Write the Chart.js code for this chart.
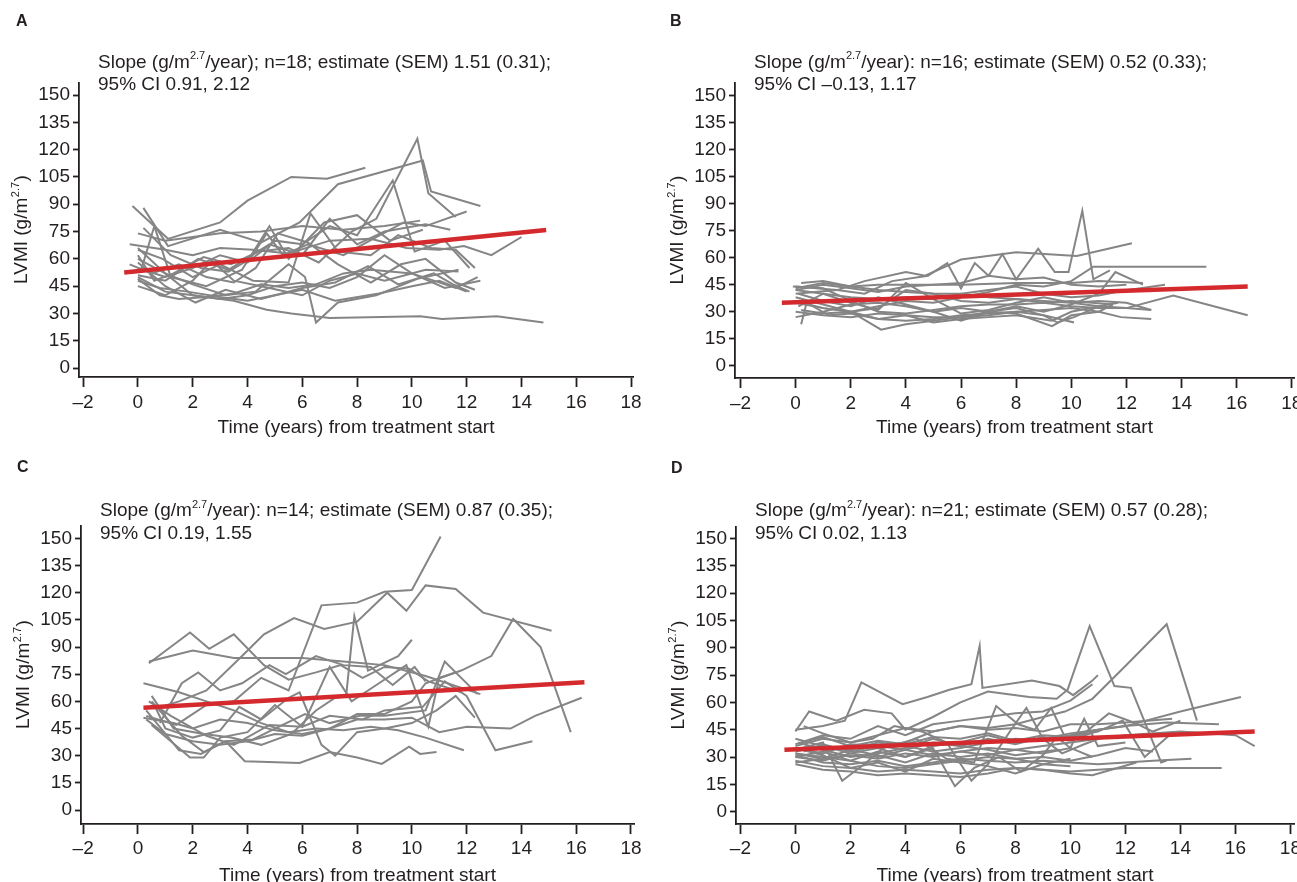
<!DOCTYPE html>
<html><head><meta charset="utf-8">
<script src="https://cdn.jsdelivr.net/npm/chart.js@4.4.0/dist/chart.umd.min.js"></script>
<style>
html,body{margin:0;padding:0;background:#fff;width:1297px;height:882px;overflow:hidden;}
.panel{position:absolute;overflow:visible;}
.panel canvas{position:absolute;left:0;top:0;}
.letter{position:absolute;font:bold 16px "Liberation Sans",Arial,sans-serif;color:#231f20;}
.note{position:absolute;font:19px "Liberation Sans",Arial,sans-serif;color:#231f20;line-height:22.5px;white-space:nowrap;}
.note sup{font-size:11px;line-height:0;position:relative;top:-1px;vertical-align:super;}
</style></head><body>
<script>
// ---------- DATA ----------
const xTicks = [-2,0,2,4,6,8,10,12,14,16,18];
const yTicks = [0,15,30,45,60,75,90,105,120,135,150];
const xTitle = 'Time (years) from treatment start';
const panelLetters = ['A','B','C','D'];
const notesLine1 = [
  ['Slope (g/m','2.7','/year); n=18; estimate (SEM) 1.51 (0.31);'],
  ['Slope (g/m','2.7','/year): n=16; estimate (SEM) 0.52 (0.33);'],
  ['Slope (g/m','2.7','/year): n=14; estimate (SEM) 0.87 (0.35);'],
  ['Slope (g/m','2.7','/year): n=21; estimate (SEM) 0.57 (0.28);']
];
const notesLine2 = ['95% CI 0.91, 2.12','95% CI \u20130.13, 1.17','95% CI 0.19, 1.55','95% CI 0.02, 1.13'];

// regression (fitted) lines: [time, LVMI] at both ends
const fitA = [[-0.5,52.5],[14.9,75.8]];
const fitB = [[-0.5,35],[16.4,44]];
const fitC = [[0.2,56.5],[16.3,70.5]];
const fitD = [[-0.4,34],[16.7,44]];

// individual patient trajectories: [time, LVMI]
const patientsA = [
 [[-0.2,89],[1.1,71],[3.0,80],[4.0,92],[5.6,105],[6.9,104],[8.3,110]],
 [[0.2,88],[1.1,67],[3.0,76],[4.5,69],[5.9,80],[7.3,101],[10.4,114],[10.7,97],[12.5,89]],
 [[0,62],[0.6,48],[1.3,52],[2.4,61],[3.4,57],[4.4,64],[5.5,66],[6.6,58],[7.8,75],[8.7,82],[10.2,126],[10.6,96],[11.6,83]],
 [[0,55],[1,50],[2,55],[3,62],[4,58],[5,70],[6,68],[7,78],[8,73],[9.3,103],[10.1,64],[11.2,70],[12.1,55]],
 [[0,50],[1,42],[2,40],[3.5,37],[4.7,32],[5.6,30],[7,27.5],[10.3,28.5],[11.1,27],[13.1,28.5],[14.8,25]],
 [[-0.3,68],[1,65],[2,62],[3,66],[4.2,65],[5.5,63],[7,70],[8.5,71],[9.8,66],[11,65],[11.9,67],[12.9,62],[14,72]],
 [[0,60],[1,52],[2,46],[3.2,40],[4.3,42],[5.5,57],[6.1,50],[6.5,25],[7.3,36],[8.7,40],[10.2,49],[11.7,54]],
 [[0,49],[0.8,40],[1.5,38],[2.5,39],[3.5,41],[4.5,46],[5.5,44],[6.5,46],[7.5,52],[8.5,54],[10,52],[11.6,44],[12.4,50]],
 [[0,58],[1,45],[2.1,36],[3.2,43],[4.5,38],[6,44],[7.2,47],[8.4,56],[9.5,46],[10.8,52],[11.5,46],[12.1,42]],
 [[0,65],[0.9,60],[2,50],[3,57],[4.2,48],[5.5,47],[6.3,85],[7.3,64],[8.5,62],[9.5,73],[10.7,66],[11.6,65],[12.3,55]],
 [[0.2,77],[1.2,62],[2.3,55],[3.3,53],[4.1,60],[4.7,74],[5.3,62],[6.2,68],[7.5,62],[8.7,72],[9.7,80],[10.5,78],[12,86]],
 [[0,74],[1,70],[3,74],[4.5,75],[6,78],[7.5,76],[9,78],[10.3,81]],
 [[0,51],[1,48],[2.2,60],[3.3,54],[4.8,68],[6,62],[7,82],[8,68],[9,75],[10.5,79],[11.4,76]],
 [[0,45],[1,40],[2,48],[2.7,59],[3.5,48],[4.8,44],[6,40],[7,48],[8,52],[9,48],[10.5,54],[11.7,53]],
 [[0.1,53],[0.6,78],[1.2,50],[2.5,45],[3.8,54],[4.8,78],[5.5,60],[6.8,80],[8,84],[9.2,70],[10.4,76]],
 [[0,66],[1,52],[2,40],[3,38],[4,40],[5,45],[6,47],[7,44],[8,50],[9,62],[10,52],[11.2,44],[12.5,48]],
 [[-0.3,57],[0.5,52],[1.5,57],[2.5,50],[3.5,47],[4.3,55],[5.1,74],[6.2,69],[7.3,57],[8.5,47],[9.6,57],[10.5,60],[11.6,47],[12.3,43]],
 [[0,48],[0.8,44],[1.8,42],[3,39],[4,37],[5,40],[6,43],[7.2,37],[8.8,41],[10,45],[11,48],[12,42]]
];
const patientsB = [
 [[0,44],[1.5,42],[2.5,40],[3.5,47],[4.8,50],[5.5,57],[6,43],[6.5,57],[7,50],[7.5,62],[8,48],[8.8,65],[9.4,52],[9.9,52],[10.4,86],[10.8,48],[11.4,53]],
 [[0,40],[1.5,42],[2.5,47],[4,52],[4.7,50],[6,59],[8,63],[10.2,61],[12.2,68]],
 [[0,35],[1,32],[2,30],[3,33],[4,36],[5,35],[6,38],[7,41],[8,45],[9,44],[10,47],[10.8,55],[14.9,55]],
 [[-0.1,44],[1,43],[2,36],[3,30],[4,29],[5,31],[6,33],[7,34],[8,34],[9,35],[10,33],[11,32],[12,32],[13.7,39],[16.4,28]],
 [[0,43],[1,46],[2,44],[3,42],[4,41],[5,40],[6,40],[7,42],[8,44],[9,40],[10,38],[11,39],[12,42],[13.4,45]],
 [[0.2,46],[1,47],[2,44],[3,45],[4,45],[6,45],[8,46],[10,46],[11,47],[12.6,46]],
 [[0,42],[1,40],[2,38],[3,37],[4,38],[5,37],[6,40],[7,38],[8,37],[9,36],[10,35],[11,33],[12,32],[12.9,31]],
 [[0,30],[1,28],[2,27],[3,29],[4,28],[5,27],[6,27],[7,28],[8,30],[9,31],[10,32],[11,30],[11.8,27],[12.9,26]],
 [[0.1,40],[1,36],[2,33],[3,38],[4,34],[5,30],[6,32],[7,30],[8,33],[9,30],[10,34],[11,40],[11.6,52],[12.6,45]],
 [[0.2,31],[1,29],[2,30],[3,26],[4,25],[5,26],[6,28],[7,29],[8,30],[9,28],[10.1,24]],
 [[0,36],[1,32],[2,30],[3.1,20],[4,23],[5,25],[6,27],[7,30],[8,29],[9.3,22],[10,28],[11,30],[11.5,34]],
 [[0.2,23],[0.4,35],[1.2,28],[2,29],[3,26],[4,28],[5,24],[6,26],[7,27],[8,28],[9.3,25],[10,30],[11,33],[11.7,35]],
 [[0,38],[1,34],[2,30],[3,32],[4,42],[5,40],[6,36],[7,35],[8,37],[9,35],[10,36],[11.5,34]],
 [[0,42],[1,45],[2,43],[3,41],[4,44],[5,45],[6,46],[7,50],[7.5,49],[8,48],[9,49],[10,45],[11,44],[12,45]],
 [[0.1,33],[1,40],[2,35],[3,31],[4,46],[5,37],[6,29],[7,31],[8,35],[9,38],[10,35],[11,36],[12,35],[12.9,31]],
 [[0,27],[1,30],[2,34],[3,35],[4,33],[5,30],[6,25],[7,30],[8,32],[9,28],[9.5,24],[10.1,27],[11,33]]
];
const patientsC = [
 [[0.4,81],[1.9,98],[2.6,89],[3.5,97],[4.6,80],[5.5,72],[6.5,76],[7.4,80],[8.2,73],[9,79],[9.9,78],[10.6,71],[11.8,65]],
 [[0.4,82],[2,88],[3.5,84],[4.8,84],[6,84],[7.5,82],[9,80],[10.5,74],[12.5,64]],
 [[0.6,56],[1.5,60],[2.5,66],[3.8,85],[4.6,97],[5.7,106],[6.8,100],[8,104],[9.1,120],[9.8,110],[10.5,124],[11.6,122],[12.6,109],[15.1,99]],
 [[0.3,52],[1.4,47],[2.5,58],[3.5,60],[4.5,73],[5.5,66],[6.7,113],[8,114.5],[9,120.5],[10,121.5],[11.05,151]],
 [[0.5,63],[1.3,45],[2.4,42],[3.4,40],[4.5,36],[5.6,42],[6.5,55],[7.2,62],[7.6,63],[7.9,107],[8.4,77],[9.5,85],[10,94]],
 [[0.3,50],[1,42],[2,38],[3,36],[4,38],[5,42],[6,41],[7,45],[8,53],[9,53],[10,60],[10.5,70],[11.8,77],[12.9,85],[13.7,105.5],[14.7,90],[15.8,43]],
 [[0.2,51],[1.3,48],[2,45],[3,50],[4,48],[5,44],[6,42],[7,45],[8,50],[9,50],[10,51],[11,43],[12,46],[13.6,45],[14.5,52],[16.2,62]],
 [[0.4,60],[1.2,52],[2.5,41],[3.5,36],[4.8,47],[6,46],[7,52],[8.2,50],[9,55],[10.4,57],[11.2,71],[12,63],[13.05,33],[14.4,38]],
 [[0.3,55],[1.5,33],[2.3,31],[3.2,38],[3.9,27],[5.9,26],[7,32],[8,29],[8.9,25.5],[9.9,35],[10.3,31],[10.9,32]],
 [[0.2,70],[1.5,65],[2.5,60],[3.5,55],[4.5,48],[5.5,43],[6.5,45],[7.5,44],[8.5,46],[9.5,44],[10.5,40],[11.9,33]],
 [[0.6,58],[1,45],[2,40],[3,44],[3.7,57],[4.5,50],[5.5,62],[5.9,65],[6.7,36],[7.2,30],[8,43],[9,45],[10,48],[10.9,55],[11.6,63],[12.3,51]],
 [[0.5,60],[1.6,41],[2.4,32],[3.2,38],[4.2,39],[5,45],[6.1,53],[7,48],[8.1,52],[9,52],[10.5,55],[11.2,82],[12.4,64]],
 [[0.5,47],[1.2,38],[1.9,29],[2.4,29],[3,40],[4,43],[5,58],[6,46],[7,79],[7.8,60],[8.8,70],[9.8,80],[10.6,46],[11,73],[11.6,76]],
 [[0.8,48],[1.6,70],[2.2,76],[3,66],[3.8,70],[4.8,80],[5.4,75],[6.5,85],[7.5,80],[8.5,79],[9.3,69],[10.1,79],[10.5,71]]
];
const patientsD = [
 [[0,45],[1,47],[1.8,50],[2.4,71],[3.9,59],[4.8,63],[5.6,67],[6.4,70],[6.7,91],[6.8,68],[8.6,72],[9.6,69],[10.1,64],[10.8,72],[11,75]],
 [[0,44],[0.5,55],[1.5,50],[2.5,56],[3.5,54],[4,45],[5,52],[6,60],[7,66],[8.5,63],[9.5,62],[9.9,67],[10.7,102],[11.6,69],[12.2,68],[13.3,27],[13.5,28]],
 [[0.2,38],[1,42],[2,40],[3,47],[4,42],[5,48],[6,50],[7,52],[8,54],[9,55],[10,61],[10.8,70]],
 [[0,35],[1,32],[2,37],[3,36],[4,38],[5,44],[6,47],[7,46],[8,48],[9,52],[9.8,55],[10.8,62],[12,80],[13.5,103],[14.6,50]],
 [[0,30],[1,28],[2,32],[3,35],[4,30],[5,36],[6,38],[7,42],[8,38],[9,40],[10,43],[11,45],[12,47],[14,55],[16.2,63]],
 [[0,33],[1,36],[2,32],[3,30],[4,34],[5,31],[6,33],[7,35],[8,34],[9,36],[10,38],[11,40],[12,42],[14,44],[16,42],[16.7,36]],
 [[0,28],[1,25],[2,24],[3,22],[4,23],[5,22],[6,21],[7,23],[8,24],[9,23],[10,22],[11,23],[12,24],[13,24],[15.5,24]],
 [[0,31],[1,27],[2,26],[3,28],[4,25],[5,27],[6,29],[7,28],[8,27],[9,28],[10,27],[11,26],[12,27],[13,28],[14.4,29]],
 [[0,26],[1,23],[2,22],[3,20],[4,21],[5,20],[6,19],[7,21],[8,24],[9,23],[10,21],[10.8,20],[12.4,27]],
 [[0,36],[1,40],[2,38],[3,42],[4,46],[5,44],[6,47],[7,45],[8,46],[9,44],[10,48],[11,48],[12,49],[13.7,51]],
 [[0,40],[1,36],[2,34],[3,38],[4,36],[5,33],[6,35],[7,38],[8,40],[9,39],[10,42],[11,45],[12,47],[13.5,49],[15.4,48]],
 [[0,32],[1,30],[2,28],[3,33],[4,30],[5,35],[5.8,14],[6.5,24],[7.4,30],[8.2,22],[9,31],[9.5,41],[10,35],[10.5,51],[11,36],[12,38]],
 [[0.3,47],[1,43],[2,38],[2.8,40],[3.6,47],[4.6,44],[5.5,38],[6.4,17],[7,26],[7.8,44],[8.4,57],[9,40],[9.7,32],[10.5,37],[11.2,41]],
 [[0,34],[1,38],[1.7,17],[2.5,26],[3.2,35],[4.4,40],[5.5,29],[6.5,27],[7.3,58],[8.1,48],[8.7,45],[9.3,57],[9.8,41],[10.5,43],[11.4,54],[12.3,49],[13,44],[14,50]],
 [[0,30],[1,33],[2,28],[3,25],[4,24],[5,26],[6,28],[7,30],[8,29],[9,30],[10,28],[11,31],[12,35],[13,33]],
 [[0.1,38],[1,34],[2,30],[3,32],[4,35],[5,40],[6,36],[7,34],[8,31],[9,33],[9.6,34]],
 [[0,35],[1,31],[2,24],[3,27],[4,22],[5,29],[6,27],[7,25],[8,21],[9,26],[10,25]],
 [[0,37],[1,41],[2,36],[3,39],[4,37],[5,41],[6,40],[7,43],[8,39],[9,42],[10,41],[11,44],[11.9,50],[12.7,30],[13.6,42],[15.2,43]],
 [[0,27],[1,29],[2,31],[3,29],[4,32],[5,30],[6,33],[7,31],[8,34],[9,32],[10,35],[10.8,30]],
 [[0.3,33],[1,37],[2,33],[3,36],[4,34],[5,38],[6,36],[7,40],[8,37],[9,41],[10,39],[10.9,44]],
 [[0,32],[1,29],[2,34],[3,31],[4,27],[5,32],[6,30],[7,32],[8,29],[9,26],[10,29]]
];

// ---------- LAYOUT / STYLE ----------
const FONT = '"Liberation Sans", Arial, Helvetica, sans-serif';
const INK = '#231f20';
const GREY = '#858585';
const RED = '#d42a2d';
const layout = [
  {left:0,  top:0,   w:650, h:441, L:79, R:633, T:83, B:377, xmin:-2.15, xmax:18.07, ymin:-4.9, ymax:156.6, tickPad:4, titlePad:2, noteX:98,  noteY:50.5, letX:16,  letY:12},
  {left:650,top:0,   w:647, h:441, L:85, R:644, T:83, B:378, xmin:-2.2,  xmax:18.08, ymin:-6.8, ymax:157,   tickPad:4, titlePad:2, noteX:104, noteY:50.5, letX:20,  letY:12},
  {left:0,  top:441, w:650, h:450, L:81, R:634, T:85, B:383, xmin:-2.08, xmax:18.11, ymin:-7.7, ymax:156.8, tickPad:3, titlePad:4, noteX:100, noteY:58,   letX:17,  letY:17},
  {left:650,top:441, w:647, h:450, L:86, R:644, T:86, B:383, xmin:-2.16, xmax:18.13, ymin:-6.8, ymax:156.4, tickPad:3, titlePad:4, noteX:105, noteY:58,   letX:21,  letY:18}
];
const allPatients = [patientsA, patientsB, patientsC, patientsD];
const allFits = [fitA, fitB, fitC, fitD];

const yTitlePlugin = {
  id:'yTitle',
  afterDraw(chart){
    const {ctx, chartArea} = chart;
    const cx = chartArea.left - 57, cy = (chartArea.top + chartArea.bottom)/2;
    ctx.save();
    ctx.translate(cx, cy); ctx.rotate(-Math.PI/2);
    ctx.fillStyle = INK; ctx.textBaseline = 'middle'; ctx.textAlign = 'left';
    const main = '19px ' + FONT, sup = '11px ' + FONT;
    const p1 = 'LVMI (g/m', s = '2.7', p2 = ')';
    ctx.font = main; const w1 = ctx.measureText(p1).width, w3 = ctx.measureText(p2).width;
    ctx.font = sup; const w2 = ctx.measureText(s).width;
    let x = -(w1 + w2 + w3)/2;
    ctx.font = main; ctx.fillText(p1, x, 0); x += w1;
    ctx.font = sup; ctx.fillText(s, x + 0.5, -6); x += w2 + 1;
    ctx.font = main; ctx.fillText(p2, x, 0);
    ctx.restore();
  }
};

layout.forEach((g, i) => {
  const div = document.createElement('div');
  div.className = 'panel';
  div.style.left = g.left + 'px'; div.style.top = g.top + 'px';
  div.style.width = g.w + 'px'; div.style.height = g.h + 'px';
  const cv = document.createElement('canvas');
  cv.width = g.w; cv.height = g.h;
  cv.style.width = g.w + 'px'; cv.style.height = g.h + 'px';
  div.appendChild(cv);

  const let_ = document.createElement('div');
  let_.className = 'letter'; let_.textContent = panelLetters[i];
  let_.style.left = g.letX + 'px'; let_.style.top = g.letY + 'px';
  div.appendChild(let_);

  const note = document.createElement('div');
  note.className = 'note';
  note.style.left = g.noteX + 'px'; note.style.top = g.noteY + 'px';
  const n1 = notesLine1[i];
  note.appendChild(document.createTextNode(n1[0]));
  const sp = document.createElement('sup'); sp.textContent = n1[1]; note.appendChild(sp);
  note.appendChild(document.createTextNode(n1[2]));
  note.appendChild(document.createElement('br'));
  note.appendChild(document.createTextNode(notesLine2[i]));
  div.appendChild(note);
  document.body.appendChild(div);

  const datasets = [];
  datasets.push({
    data: allFits[i].map(p => ({x:p[0], y:p[1]})),
    showLine:true, borderColor:RED, borderWidth:4.5, pointRadius:0, order:0, borderCapStyle:'butt'
  });
  allPatients[i].forEach(pts => {
    datasets.push({
      data: pts.map(p => ({x:p[0], y:p[1]})),
      showLine:true, borderColor:GREY, borderWidth:2, pointRadius:0, order:1, tension:0
    });
  });

  new Chart(cv, {
    type:'scatter',
    data:{datasets},
    plugins:[yTitlePlugin],
    options:{
      responsive:false, animation:false, devicePixelRatio:1,
      layout:{padding:{left:0, top:g.T, right:g.w - g.R, bottom:0}},
      plugins:{legend:{display:false}, tooltip:{enabled:false}, title:{display:false}},
      elements:{point:{radius:0, hoverRadius:0}},
      scales:{
        x:{
          type:'linear', min:g.xmin, max:g.xmax,
          afterBuildTicks: s => { s.ticks = xTicks.map(v => ({value:v})); },
          afterFit: s => { s.height = g.h - g.B; s.paddingLeft = 0; s.paddingRight = 0; },
          grid:{display:true, drawOnChartArea:false, drawTicks:true, tickLength:10, tickWidth:1.8, tickColor:INK},
          border:{display:true, color:INK, width:1.8},
          ticks:{font:{family:FONT, size:19}, color:INK, padding:g.tickPad, maxRotation:0, autoSkip:false,
                 callback: v => String(v).replace('-', '\u2013')},
          title:{display:true, text:xTitle, font:{family:FONT, size:19}, color:INK, padding:{top:0, bottom:g.titlePad}}
        },
        y:{
          type:'linear', min:g.ymin, max:g.ymax,
          afterBuildTicks: s => { s.ticks = yTicks.map(v => ({value:v})); },
          afterFit: s => { s.width = g.L; s.paddingTop = 0; s.paddingBottom = 0; },
          grid:{display:true, drawOnChartArea:false, drawTicks:true, tickLength:6, tickWidth:1.8, tickColor:INK},
          border:{display:true, color:INK, width:1.8},
          ticks:{font:{family:FONT, size:19}, color:INK, padding:3, autoSkip:false},
          title:{display:false}
        }
      }
    }
  });
});
</script>
</body></html>
